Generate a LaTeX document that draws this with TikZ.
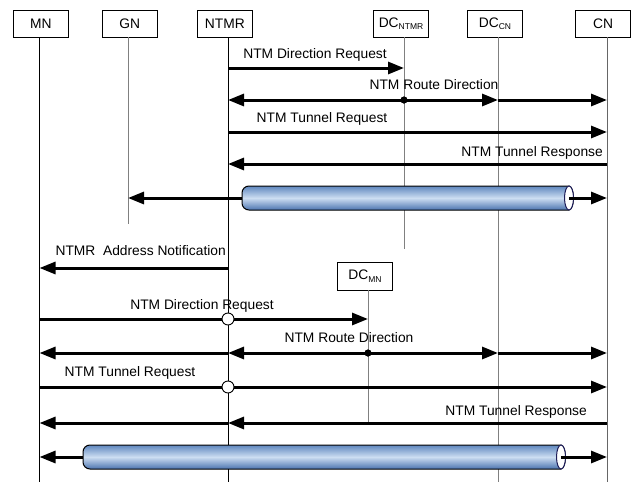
\documentclass[tikz,border=0pt]{standalone}
\usepackage{fontspec}
\setmainfont{Liberation Sans}
\usetikzlibrary{arrows.meta}
\definecolor{pipeTop}{RGB}{95,135,190}
\definecolor{pipeMid}{RGB}{205,222,242}
\definecolor{pipeBot}{RGB}{75,115,175}
\definecolor{pipeRim}{RGB}{30,30,90}
\newcommand{\pipebody}[3]{%
  \shade[top color=pipeTop, bottom color=pipeBot, middle color=pipeMid, draw=black, line width=1pt]
    ({#2},{#3-12}) [rounded corners=7pt] -- ({#1},{#3-12}) -- ({#1},{#3+12}) [sharp corners] -- ({#2},{#3+12})
    arc[start angle=-90, end angle=90, x radius=4.5pt, y radius=12pt];
  \draw[pipeRim, fill=white, line width=1pt] ({#2},{#3}) ellipse[x radius=4.5pt, y radius=12pt];
}
\begin{document}
\begin{tikzpicture}[x=1pt,y=-1pt,
  ent/.style={draw, line width=0.6pt, minimum width=55pt, minimum height=27pt, inner sep=0pt, font=\fontsize{13.8}{16}\selectfont},
  life/.style={line width=0.9pt},
  glife/.style={line width=0.9pt, draw=gray},
  msg/.style={line width=3pt, -{Triangle[length=16pt,width=12pt]}},
  lbl/.style={font=\fontsize{13.8}{16}\selectfont, inner sep=0pt},
  dot/.style={circle, fill=black, inner sep=0pt, minimum size=7pt},
  ocirc/.style={circle, draw=black, fill=white, line width=0.9pt, inner sep=0pt, minimum size=12pt}]
\useasboundingbox (0,0) rectangle (635,482);
\newcommand{\subtx}[1]{\raisebox{-2.5pt}{\fontsize{8.5}{9}\selectfont #1}}
% boxes
\node[ent] (mn) at (40.8,23.5) {MN};
\node[ent] (gn) at (129.8,23.5) {GN};
\node[ent] (ntmr) at (224.8,23.5) {NTMR};
\node[ent] (dcn) at (401,23.5) {DC\subtx{NTMR}};
\node[ent] (dccn) at (495,23.5) {DC\subtx{CN}};
\node[ent] (cn) at (603,23.5) {CN};
\node[ent, minimum height=28pt] (dcmn) at (365,276) {DC\subtx{MN}};
% lifeline x positions
\coordinate (Lmn) at (39.5,0);
\coordinate (Lgn) at (128,0);
\coordinate (Lntmr) at (228,0);
\coordinate (Ldcn) at (404,0);
\coordinate (Ldccn) at (498,0);
\coordinate (Lcn) at (607,0);
\coordinate (Ldcmn) at (368,0);
% lifelines
\draw[life] (Lmn |- mn.south) -- (Lmn |- 0,482);
\draw[glife] (Lgn |- gn.south) -- (Lgn |- 0,224);
\draw[life] (Lntmr |- ntmr.south) -- (Lntmr |- 0,482);
\draw[glife] (Ldcn |- dcn.south) -- (Ldcn |- 0,249);
\draw[glife] (Ldccn |- dccn.south) -- (Ldccn |- 0,482);
\draw[glife, draw=gray!80!black] (Lcn |- cn.south) -- (Lcn |- 0,482);
\draw[glife] (Ldcmn |- dcmn.south) -- (Ldcmn |- 0,423);
% 1 NTM Direction Request
\draw[msg] (Lntmr |- 0,68) -- (Ldcn |- 0,68);
\node[lbl] (l1) at (315,55) {NTM Direction Request};
% 2 NTM Route Direction
\node[dot] (d1) at (Ldcn |- 0,100) {};
\draw[msg] (d1.center) -- (Lntmr |- 0,100);
\draw[msg] (d1.center) -- (Ldccn |- 0,100);
\draw[msg] (Ldccn |- 0,100) -- (Lcn |- 0,100);
\node[dot] at (d1) {};
\node[lbl] (l2) at (434,85) {NTM Route Direction};
% 3 NTM Tunnel Request
\draw[msg] (Lntmr |- 0,132) -- (Lcn |- 0,132);
\node[lbl] (l3) at (322,119) {NTM Tunnel Request};
% 4 NTM Tunnel Response
\draw[msg] (Lcn |- 0,164) -- (Lntmr |- 0,164);
\node[lbl, anchor=east] (l4) at (603,153) {NTM Tunnel Response};
% 5 tunnel 1
\coordinate (t1L) at (242,198);
\coordinate (t1R) at (569,198);
\draw[msg] (t1L) -- (Lgn |- t1L);
\pipebody{242}{569}{198}
\draw[msg] (t1R) -- (Lcn |- t1R);
% 6 NTMR Address Notification
\draw[msg] (Lntmr |- 0,268) -- (Lmn |- 0,268);
\node[lbl, anchor=east] (l6) at (226,251) {NTMR\ \ Address Notification};
% 7 NTM Direction Request 2
\draw[msg] (Lmn |- 0,319) -- (Ldcmn |- 0,319);
\node[ocirc] (c1) at (Lntmr |- 0,319) {};
\node[lbl] (l7) at (202,306) {NTM Direction Request};
% 8 NTM Route Direction 2
\node[dot] (d2) at (Ldcmn |- 0,353) {};
\draw[msg] (Lntmr |- 0,353) -- (Lmn |- 0,353);
\draw[msg] (d2.center) -- (Lntmr |- 0,353);
\draw[msg] (d2.center) -- (Ldccn |- 0,353);
\draw[msg] (Ldccn |- 0,353) -- (Lcn |- 0,353);
\node[dot] at (d2) {};
\node[lbl] (l8) at (349,338) {NTM Route Direction};
% 9 NTM Tunnel Request 2
\draw[msg] (Lmn |- 0,387) -- (Lcn |- 0,387);
\node[ocirc] (c2) at (Lntmr |- 0,387) {};
\node[lbl] (l9) at (130,373) {NTM Tunnel Request};
% 10 NTM Tunnel Response 2
\draw[msg] (Lcn |- 0,423) -- (Lntmr |- 0,423);
\draw[msg] (Lntmr |- 0,423) -- (Lmn |- 0,423);
\node[lbl, anchor=east] (l10) at (587,412) {NTM Tunnel Response};
% 11 tunnel 2
\coordinate (t2L) at (83,457);
\coordinate (t2R) at (561,457);
\draw[msg] (t2L) -- (Lmn |- t2L);
\pipebody{83}{561}{457}
\draw[msg] (t2R) -- (Lcn |- t2R);
\end{tikzpicture}
\end{document}
